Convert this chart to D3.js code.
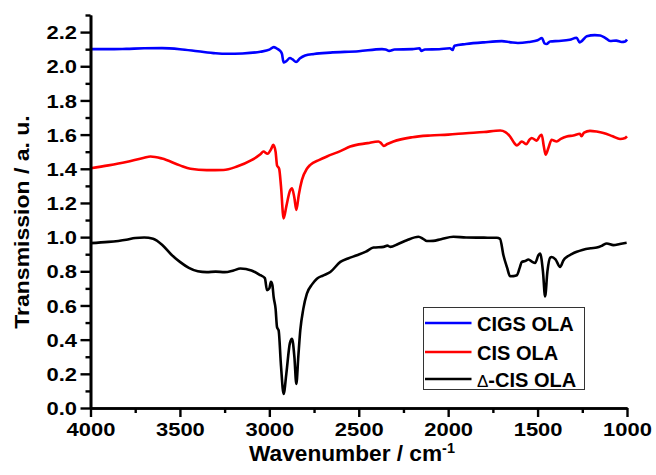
<!DOCTYPE html>
<html><head><meta charset="utf-8">
<script src="https://cdn.jsdelivr.net/npm/d3@7/dist/d3.min.js"></script>
<style>body{margin:0;background:#fff}svg{display:block}text{font-family:"Liberation Sans",Arial,sans-serif;font-weight:bold;fill:#000}</style>
</head><body><svg id="c" width="656" height="475"></svg>
<script>
const seriesNames = ["CIGS OLA", "CIS OLA", "\u0394-CIS OLA"];
const seriesColors = ["#0000ff", "#ff0000", "#000000"];
const xTicks = [4000, 3500, 3000, 2500, 2000, 1500, 1000];
const yTicks = [0.0, 0.2, 0.4, 0.6, 0.8, 1.0, 1.2, 1.4, 1.6, 1.8, 2.0, 2.2];

const cigsWn = [4000,3900,3800,3700,3600,3500,3400,3300,3237,3150,3050,3000,2975,2960,2945,2930,2920,2905,2885,2870,2850,2830,2800,2750,2660,2500,2370,2350,2330,2300,2200,2160,2150,2130,2050,1990,1975,1965,1900,1800,1700,1650,1610,1550,1500,1475,1462,1450,1430,1380,1320,1282,1265,1250,1225,1180,1150,1120,1095,1060,1030,1010,1000];
const cigsT = [2.100,2.100,2.102,2.105,2.106,2.100,2.088,2.076,2.073,2.075,2.085,2.097,2.112,2.105,2.095,2.075,2.022,2.030,2.048,2.040,2.025,2.045,2.063,2.072,2.080,2.088,2.100,2.098,2.090,2.098,2.100,2.105,2.090,2.098,2.100,2.105,2.095,2.120,2.130,2.140,2.147,2.140,2.136,2.142,2.152,2.165,2.135,2.130,2.145,2.148,2.155,2.167,2.140,2.150,2.175,2.182,2.180,2.165,2.148,2.150,2.142,2.145,2.157];

const cisWn = [4000,3900,3800,3700,3665,3600,3500,3441,3350,3257,3181,3100,3050,3033,3010,2990,2978,2965,2957,2945,2935,2920,2905,2885,2873,2860,2849,2835,2818,2790,2771,2720,2678,2600,2548,2450,2390,2375,2361,2340,2306,2200,2100,2000,1900,1800,1709,1680,1654,1630,1616,1600,1588,1564,1545,1533,1505,1485,1477,1465,1455,1440,1421,1410,1393,1370,1337,1300,1263,1255,1240,1207,1170,1132,1080,1039,1010,1000];
const cisT = [1.403,1.420,1.440,1.465,1.472,1.460,1.420,1.400,1.392,1.393,1.413,1.450,1.485,1.501,1.488,1.515,1.540,1.500,1.420,1.400,1.300,1.110,1.180,1.270,1.286,1.230,1.159,1.250,1.334,1.400,1.423,1.452,1.472,1.505,1.530,1.550,1.560,1.550,1.534,1.545,1.560,1.585,1.595,1.600,1.608,1.615,1.624,1.615,1.589,1.550,1.536,1.550,1.560,1.544,1.570,1.580,1.565,1.595,1.599,1.530,1.482,1.520,1.570,1.565,1.560,1.575,1.589,1.595,1.605,1.590,1.612,1.622,1.618,1.610,1.590,1.574,1.580,1.589];

const dcisWn = [4000,3900,3800,3750,3700,3650,3600,3550,3500,3450,3400,3350,3300,3250,3200,3162,3100,3050,3025,3013,3000,2991,2983,2976,2965,2957,2948,2935,2920,2905,2885,2873,2860,2849,2838,2827,2810,2790,2760,2734,2700,2659,2603,2560,2510,2460,2417,2361,2340,2324,2280,2231,2166,2140,2119,2084,2040,1971,1900,1800,1728,1710,1691,1670,1654,1635,1616,1600,1588,1570,1551,1530,1514,1495,1486,1470,1458,1445,1430,1421,1400,1374,1355,1337,1310,1281,1250,1200,1169,1140,1113,1076,1040,1002];
const dcisT = [0.965,0.972,0.985,0.995,0.998,0.990,0.955,0.900,0.855,0.820,0.800,0.795,0.798,0.795,0.805,0.816,0.805,0.777,0.760,0.689,0.700,0.738,0.720,0.650,0.580,0.473,0.454,0.250,0.082,0.200,0.380,0.405,0.300,0.141,0.300,0.454,0.580,0.669,0.725,0.757,0.775,0.796,0.855,0.875,0.894,0.915,0.939,0.943,0.950,0.943,0.960,0.982,1.002,0.990,0.977,0.978,0.988,1.002,0.998,0.997,0.996,0.990,0.894,0.820,0.771,0.772,0.777,0.820,0.855,0.860,0.869,0.855,0.849,0.895,0.904,0.800,0.653,0.800,0.880,0.884,0.870,0.826,0.865,0.884,0.900,0.914,0.925,0.935,0.939,0.950,0.963,0.953,0.960,0.967];

const seriesWn = [cigsWn, cisWn, dcisWn];
const seriesT = [cigsT, cisT, dcisT];

const svg = d3.select("#c");
const x = d3.scaleLinear().domain([4000, 1000]).range([90.5, 627]);
const y = d3.scaleLinear().domain([0, 2.3]).range([408, 15]);

// data lines
const line = d3.line().x(d => x(d[0])).y(d => y(d[1])).curve(d3.curveMonotoneX);
[2,1,0].forEach(i => {
  const pts = seriesWn[i].map((w, k) => [w, seriesT[i][k]]);
  svg.append("path").attr("d", line(pts)).attr("fill", "none")
    .attr("stroke", seriesColors[i]).attr("stroke-width", 2.6).attr("stroke-linejoin", "round");
});

// y axis
const yMinor = d3.range(0.1, 2.31, 0.2);
svg.append("g").attr("transform", "translate(90.5,0)")
  .call(d3.axisLeft(y).tickValues(yMinor).tickSize(5).tickSizeOuter(0).tickFormat(""));
const gy = svg.append("g").attr("transform", "translate(90.5,0)")
  .call(d3.axisLeft(y).tickValues(yTicks).tickSize(10).tickSizeOuter(0).tickFormat(d3.format(".1f")));
gy.selectAll("text").attr("x", 0).attr("dy", null).attr("y", 0)
  .attr("text-anchor", "end").attr("font-size", 18)
  .attr("transform", "translate(-13.5,6.6) scale(1.22,1)");

// x axis
const xMinor = d3.range(3750, 1000, -500);
svg.append("g").attr("transform", "translate(0,408)")
  .call(d3.axisBottom(x).tickValues(xMinor).tickSize(5).tickSizeOuter(0).tickFormat(""));
const gx = svg.append("g").attr("transform", "translate(0,408)")
  .call(d3.axisBottom(x).tickValues(xTicks).tickSize(9).tickSizeOuter(0).tickFormat(d3.format("d")));
gx.selectAll("text").attr("y", 0).attr("dy", null).attr("font-size", 18)
  .attr("transform", "translate(0,27.5) scale(1.22,1)");

svg.selectAll(".domain, .tick line").attr("stroke", "#000").attr("stroke-width", 2.4);
svg.selectAll(".domain").attr("stroke-width", 2.6);
svg.selectAll("g").attr("font-family", null).attr("font-size", null);

// axis titles
const xt = svg.append("text").attr("transform", "translate(352,461) scale(1.03,1)")
  .attr("text-anchor", "middle").attr("font-size", 22);
xt.append("tspan").text("Wavenumber / cm");
xt.append("tspan").attr("font-size", 14).attr("dy", -8).text("-1");

svg.append("text").attr("transform", "translate(28.5,222) rotate(-90) scale(1.15,1)")
  .attr("text-anchor", "middle").attr("font-size", 20).text("Transmission / a. u.");

// legend
const lg = svg.append("g");
lg.append("rect").attr("x", 423.5).attr("y", 307.5).attr("width", 161).attr("height", 82)
  .attr("fill", "#fff").attr("stroke", "#333").attr("stroke-width", 1);
const rowY = [323, 352, 379];
seriesNames.forEach((n, i) => {
  lg.append("line").attr("x1", 425).attr("x2", 471.5).attr("y1", rowY[i]).attr("y2", rowY[i])
    .attr("stroke", seriesColors[i]).attr("stroke-width", 2.6);
  const t = lg.append("text").attr("x", 477).attr("y", rowY[i] + 7.5).attr("font-size", 20);
  if (n.startsWith("\u0394")) {
    t.append("tspan").attr("font-weight", "normal").attr("font-size", 17).text("\u0394");
    t.append("tspan").text(n.slice(1));
  } else t.text(n);
});
</script></body></html>
